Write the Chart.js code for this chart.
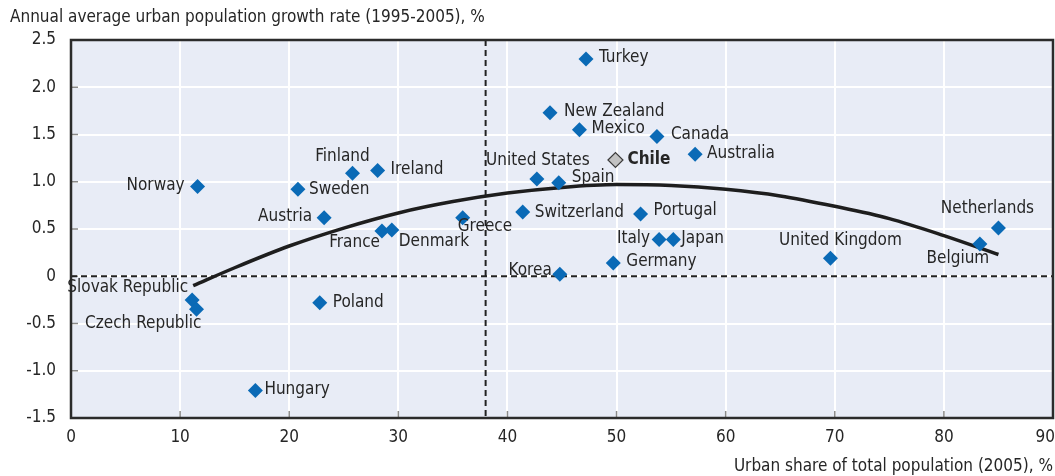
<!DOCTYPE html>
<html>
<head>
<meta charset="utf-8">
<script src="https://cdn.jsdelivr.net/npm/chart.js@4"></script>
<style>
html,body{margin:0;padding:0;background:#fff;}
#wrap{width:1055px;height:476px;position:relative;}
</style>
</head>
<body>
<div id="wrap"><canvas id="c" width="1055" height="476"></canvas></div>
<script>
// ---- data ----
const countries = ["Turkey","New Zealand","Mexico","Canada","Australia","United States","Spain","Norway","Sweden","Finland","Ireland","Austria","France","Denmark","Greece","Switzerland","Portugal","Italy","Japan","Germany","Korea","United Kingdom","Belgium","Netherlands","Slovak Republic","Czech Republic","Poland","Hungary"];
const urbanShare = [47.2,43.9,46.6,53.7,57.2,42.7,44.7,11.6,20.8,25.8,28.1,23.2,28.5,29.4,35.9,41.4,52.2,53.9,55.2,49.7,44.8,69.6,83.3,85.0,11.1,11.5,22.8,16.9];
const growthRate = [2.30,1.73,1.55,1.48,1.29,1.03,0.99,0.95,0.92,1.09,1.12,0.62,0.48,0.49,0.62,0.68,0.66,0.39,0.39,0.14,0.02,0.19,0.34,0.51,-0.25,-0.35,-0.28,-1.21];
const chileName = "Chile";
const chileShare = [49.9];
const chileRate = [1.23];
const trendX = [11.2,15,20,25,30,35,40,45,50,55,60,65,70,75,80,85];
const trendY = [-0.10,0.09,0.32,0.51,0.67,0.79,0.88,0.94,0.97,0.96,0.92,0.85,0.74,0.61,0.43,0.23];
const refShare = 38;   // vertical dashed reference
const refRate = 0;     // horizontal dashed reference
const xTitle = "Urban share of total population (2005), %";
const yTitle = "Annual average urban population growth rate (1995-2005), %";

// ---- label placement (styling) ----
const labelPlace = {
  "Turkey":[13,-1,"left"],"New Zealand":[14,-1,"left"],"Mexico":[12,-1,"left"],"Canada":[14,-2,"left"],
  "Australia":[12,-1,"left"],"United States":[1,-18,"center"],"Spain":[13,-5,"left"],"Norway":[-13,-1,"right"],
  "Sweden":[11,0,"left"],"Finland":[-10,-17,"center"],"Ireland":[13,-1,"left"],"Austria":[-12,-1,"right"],
  "France":[-2,12,"right"],"Denmark":[7,12,"left"],"Greece":[-5,9,"left"],"Switzerland":[12,1,"left"],
  "Portugal":[13,-3,"left"],"Italy":[-9,-1,"right"],"Japan":[8,-1,"left"],"Germany":[13,-1,"left"],
  "Korea":[-8,-4,"right"],"United Kingdom":[10,-18,"center"],"Belgium":[-22,14,"center"],"Netherlands":[-11,-19,"center"],
  "Slovak Republic":[-4,-12,"right"],"Czech Republic":[5,14,"right"],"Poland":[13,0,"left"],"Hungary":[9,-1,"left"],
  "Chile":[12,0,"left"]
};

const FONT = "'DejaVu Sans Condensed','DejaVu Sans',sans-serif";
const TXT = "#262626";

const pts = countries.map((n,i)=>({x:urbanShare[i],y:growthRate[i],name:n}));
const chilePts = chileShare.map((v,i)=>({x:v,y:chileRate[i],name:chileName}));
const trendPts = trendX.map((v,i)=>({x:v,y:trendY[i]}));

const decor = {
  id:'decor',
  beforeDatasetsDraw(chart){
    const {ctx, chartArea:a, scales:{x,y}} = chart;
    ctx.save();
    ctx.strokeStyle = "#8a8a8a"; ctx.lineWidth = 1.5;
    y.ticks.forEach(t=>{const py=y.getPixelForValue(t.value); ctx.beginPath(); ctx.moveTo(a.left,py); ctx.lineTo(a.left+7,py); ctx.stroke();});
    x.ticks.forEach(t=>{const px=x.getPixelForValue(t.value); ctx.beginPath(); ctx.moveTo(px,a.bottom); ctx.lineTo(px,a.bottom-7); ctx.stroke();});
    ctx.strokeStyle = "#222"; ctx.lineWidth = 2; ctx.setLineDash([6,4]);
    const vx = x.getPixelForValue(refShare);
    ctx.beginPath(); ctx.moveTo(vx,a.top); ctx.lineTo(vx,a.bottom); ctx.stroke();
    const hy = y.getPixelForValue(refRate);
    ctx.beginPath(); ctx.moveTo(a.left,hy); ctx.lineTo(a.right,hy); ctx.stroke();
    ctx.restore();
  },
  afterDraw(chart){
    const {ctx, chartArea:a, scales:{x}} = chart;
    ctx.save();
    ctx.strokeStyle = "#2b2b2b"; ctx.lineWidth = 2.5;
    ctx.strokeRect(a.left, a.top, a.right-a.left, a.bottom-a.top);
    ctx.fillStyle = TXT; ctx.textBaseline = "middle";
    ctx.font = "17px " + FONT;
    x.ticks.forEach(t=>{
      const s = String(t.value);
      const w = ctx.measureText(s).width;
      let px = x.getPixelForValue(t.value);
      px = Math.min(px, chart.width - w/2);
      ctx.textAlign = "center";
      ctx.fillText(s, px, 438);
    });
    chart.data.datasets.forEach((ds,di)=>{
      if(!ds.labelled) return;
      const meta = chart.getDatasetMeta(di);
      meta.data.forEach((el,i)=>{
        const name = ds.data[i].name;
        const p = labelPlace[name] || [10,0,"left"];
        ctx.font = (name===chileName ? "bold " : "") + "17px " + FONT;
        ctx.textAlign = p[2];
        ctx.fillText(name, el.x + p[0], el.y + p[1]);
      });
    });
    ctx.font = "17px " + FONT;
    ctx.textAlign = "left"; ctx.fillText(yTitle, 10, 18);
    ctx.textAlign = "right"; ctx.fillText(xTitle, a.right, 467);
    ctx.restore();
  }
};

const bgPlugin = {
  id:'bg',
  beforeDraw(chart){
    const {ctx, chartArea:a} = chart;
    ctx.save(); ctx.fillStyle = "#e8ecf6";
    ctx.fillRect(a.left,a.top,a.right-a.left,a.bottom-a.top); ctx.restore();
  }
};

new Chart(document.getElementById('c'), {
  type:'scatter',
  data:{datasets:[
    {data:trendPts, showLine:true, borderColor:"#1e1e1e", borderWidth:3.5, pointRadius:0, cubicInterpolationMode:'monotone', order:3},
    {data:pts, labelled:true, pointStyle:'rectRot', pointRadius:7.5, pointHoverRadius:7.5, backgroundColor:"#0a6ab6", borderColor:"#0a6ab6", borderWidth:0, order:1},
    {data:chilePts, labelled:true, pointStyle:'rectRot', pointRadius:7.5, pointHoverRadius:7.5, backgroundColor:"#c2c2c2", borderColor:"#3a3a3a", borderWidth:1.2, order:0}
  ]},
  options:{
    responsive:false, animation:false, devicePixelRatio:1,
    layout:{autoPadding:false, padding:{top:40,right:2,left:0,bottom:0}},
    plugins:{legend:{display:false}, tooltip:{enabled:false}},
    scales:{
      x:{type:'linear', min:0, max:90,
        afterFit(s){s.height=58;},
        grid:{color:"#ffffff", lineWidth:2, drawTicks:false},
        border:{display:false},
        ticks:{stepSize:10, display:false}
      },
      y:{type:'linear', min:-1.5, max:2.5,
        afterFit(s){s.width=71;},
        grid:{color:"#ffffff", lineWidth:2, drawTicks:false},
        border:{display:false},
        ticks:{stepSize:0.5, padding:15, color:TXT, font:{family:FONT,size:17},
          callback:(v)=> v===0 ? "0" : Number(v).toFixed(1)}
      }
    }
  },
  plugins:[bgPlugin, decor]
});
</script>
</body>
</html>
